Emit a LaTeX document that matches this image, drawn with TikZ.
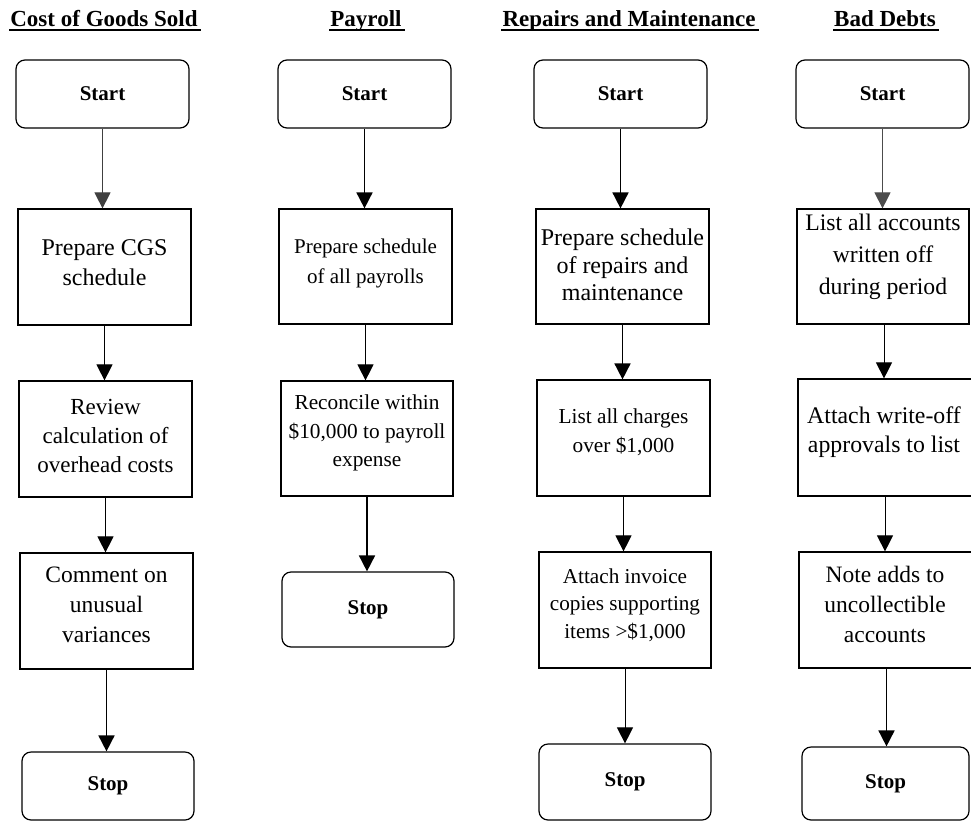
\documentclass[tikz,border=0pt]{standalone}
\usepackage{fontspec}
\setmainfont{Liberation Serif}
\usetikzlibrary{arrows.meta}
\newcommand{\fsz}[2]{\fontsize{#1}{#2}\selectfont}
\begin{document}
\begin{tikzpicture}[x=1pt,y=-1pt,
  terminal/.style={draw, line width=1.2pt, rounded corners=9pt, inner sep=0pt,
                   minimum width=173pt, font=\fsz{21}{25}\bfseries},
  stepbox/.style={draw, line width=1.2pt, inner sep=0pt, minimum width=173pt, minimum height=116pt},
  steptext/.style={align=center, inner sep=0pt},
  hdr/.style={inner sep=0pt, anchor=base, font=\fsz{23}{28}\bfseries},
  uline/.style={line width=1.6pt},
  flow/.style={line width=1pt, -{Triangle[width=16pt,length=16pt]}},
  flowthick/.style={flow, line width=1.7pt},
]
\useasboundingbox (0,0) rectangle (971,822);

% ---------- column headings ----------
\node[hdr] (h1) at (104,26) {Cost of Goods Sold};
\node[hdr] (h2) at (366,26) {Payroll};
\node[hdr] (h3) at (629,26) {Repairs and Maintenance};
\node[hdr] (h4) at (885,26) {Bad Debts};
\foreach \h in {h1,h2,h3,h4}
  \draw[uline] ([xshift=-1pt,yshift=-4pt]\h.base west) -- ([xshift=3pt,yshift=-4pt]\h.base east);

% ---------- Cost of Goods Sold ----------
\node[terminal, minimum height=68pt] (s1) at (102.5,94) {Start};
\node[stepbox] (b12) at (104.5,267) {};
\node[steptext, font=\fsz{24}{30}] (t12) at (104.5,263) {Prepare CGS\\schedule};
\node[stepbox] (b13) at (105.5,439) {};
\node[steptext, font=\fsz{23}{29}] (t13) at (105.5,436) {Review\\calculation of\\overhead costs};
\node[stepbox] (b14) at (106.5,611) {};
\node[steptext, font=\fsz{23.5}{30}] (t14) at (106.5,605) {Comment on\\unusual\\variances};
\node[terminal, minimum width=172pt, minimum height=68pt] (e1) at (108,786) {Stop};

\draw[flow, black!75] (s1.south) -- (s1.south |- b12.north);
\draw[flow] (b12.south) -- (b12.south |- b13.north);
\draw[flow] (b13.south) -- (b13.south |- b14.north);
\draw[flowthick] (b14.south) -- (b14.south |- e1.north);

% ---------- Payroll ----------
\node[terminal, minimum height=68pt] (s2) at (364.5,94) {Start};
\node[stepbox, minimum height=115pt] (b22) at (365.5,266.5) {};
\node[steptext, font=\fsz{21}{30}] (t22) at (365.5,263) {Prepare schedule\\of all payrolls};
\node[stepbox, minimum width=172pt, minimum height=115pt] (b23) at (367,438.5) {};
\node[steptext, font=\fsz{21.3}{28.5}] (t23) at (367,433) {Reconcile within\\\$10,000 to payroll\\expense};
\node[terminal, minimum width=172pt, minimum height=75pt] (e2) at (368,609.5) {Stop};

\draw[flowthick] (s2.south) -- (s2.south |- b22.north);
\draw[flow] (b22.south) -- (b22.south |- b23.north);
\draw[flowthick] (b23.south) -- (b23.south |- e2.north);

% ---------- Repairs and Maintenance ----------
\node[terminal, minimum height=68pt] (s3) at (620.5,94) {Start};
\node[stepbox, minimum height=115pt] (b32) at (622.5,266.5) {};
\node[steptext, font=\fsz{24}{27.5}] (t32) at (622.5,265) {Prepare schedule\\of repairs and\\maintenance};
\node[stepbox] (b33) at (623.5,438) {};
\node[steptext, font=\fsz{21.3}{29}] (t33) at (623.5,432) {List all charges\\over \$1,000};
\node[stepbox, minimum width=172pt] (b34) at (625,610) {};
\node[steptext, font=\fsz{21.2}{27.5}] (t34) at (625,605) {Attach invoice\\copies supporting\\items >\$1,000};
\node[terminal, minimum width=172pt, minimum height=76pt] (e3) at (625,782) {Stop};

\draw[flowthick] (s3.south) -- (s3.south |- b32.north);
\draw[flowthick] (b32.south) -- (b32.south |- b33.north);
\draw[flow] (b33.south) -- (b33.south |- b34.north);
\draw[flow] (b34.south) -- (b34.south |- e3.north);

% ---------- Bad Debts (the middle two boxes run past the right margin) ----------
\node[terminal, minimum height=68pt] (s4) at (882.5,94) {Start};
\node[stepbox, minimum width=172pt, minimum height=115pt] (b42) at (883,266.5) {};
\node[steptext, font=\fsz{23.7}{32}] (t42) at (883,257) {List all accounts\\written off\\during period};
\node[stepbox, minimum width=180pt, minimum height=117pt] (b43) at (888,437.5) {};
\node[steptext, font=\fsz{23.8}{29}] (t43) at (884,432) {Attach write-off\\approvals to list};
\node[stepbox, minimum width=179pt] (b44) at (888.5,610) {};
\node[steptext, font=\fsz{23.5}{30}] (t44) at (885,604) {Note adds to\\uncollectible\\accounts};
\node[terminal, minimum width=167pt, minimum height=73pt] (e4) at (885.5,783.5) {Stop};

\draw[flow, black!70] (s4.south) -- (s4.south |- b42.north);
\draw[flow] ([xshift=1pt]b42.south) -- ([xshift=1pt]b42.south |- b43.north);
\draw[flow] ([xshift=-3pt]b43.south) -- ([xshift=-3pt]b43.south |- b44.north);
\draw[flowthick] ([xshift=-2pt]b44.south) -- ([xshift=-2pt]b44.south |- e4.north);
\end{tikzpicture}
\end{document}
